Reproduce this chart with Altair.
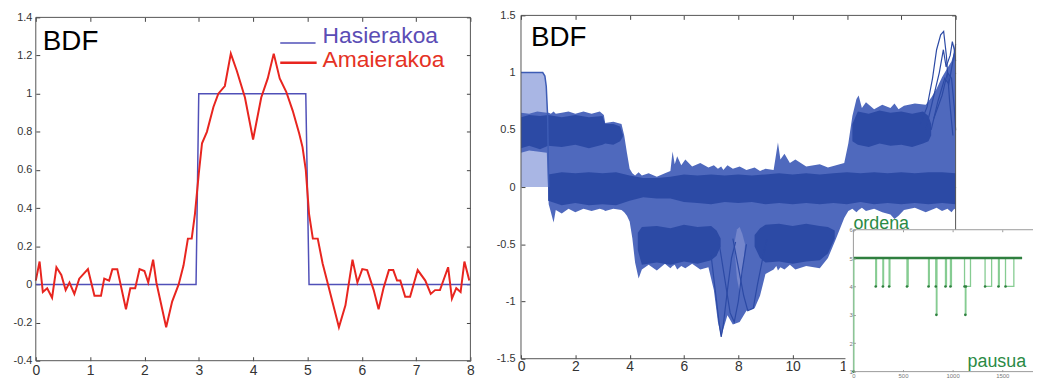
import altair as alt
import pandas as pd

# ---------------- left panel data ----------------
hasi_x = [0, 2.95, 3.0, 4.97, 5.03, 8]
hasi_y = [0, 0, 1, 1, 0, 0]

amai_x = [0.00, 0.07, 0.13, 0.21, 0.30, 0.38, 0.47, 0.55, 0.62, 0.71, 0.80, 0.96, 1.08, 1.20, 1.26,
          1.35, 1.41, 1.50, 1.66, 1.74, 1.83, 1.91, 2.00, 2.07, 2.16, 2.22, 2.40, 2.51, 2.63, 2.72,
          2.80, 2.87, 2.93, 3.00, 3.06, 3.15, 3.27, 3.36, 3.48, 3.59, 3.70, 3.85, 4.00, 4.15, 4.27,
          4.38, 4.49, 4.61, 4.73, 4.85, 4.91, 4.97, 5.03, 5.10, 5.19, 5.28, 5.37, 5.58, 5.70, 5.83,
          5.92, 6.01, 6.10, 6.22, 6.31, 6.40, 6.50, 6.58, 6.65, 6.71, 6.80, 6.89, 7.03, 7.17, 7.27,
          7.35, 7.44, 7.59, 7.66, 7.74, 7.82, 7.89, 7.98]
amai_y = [0.02, 0.12, -0.04, -0.02, -0.07, 0.09, 0.05, -0.03, 0.01, -0.05, 0.03, 0.08, -0.06, -0.06, 0.03,
          0.02, 0.08, 0.08, -0.13, -0.02, -0.02, 0.08, 0.07, 0.01, 0.13, 0.01, -0.225, -0.09, 0.00, 0.10,
          0.24, 0.24, 0.37, 0.58, 0.74, 0.80, 0.93, 1.00, 1.04, 1.21, 1.12, 0.98, 0.76, 0.98, 1.08,
          1.21, 1.08, 1.01, 0.91, 0.79, 0.72, 0.60, 0.37, 0.24, 0.24, 0.11, 0.01, -0.225, -0.11, 0.13,
          0.01, 0.08, 0.075, -0.03, -0.13, -0.02, 0.075, 0.075, 0.02, 0.02, -0.065, -0.065, 0.075, 0.02, -0.05,
          -0.03, -0.03, 0.09, -0.075, -0.02, -0.04, 0.12, 0.02]

# ---------------- right panel data (envelopes of the trace bundle) ----------------
light_t = [0.00, 0.80, 0.88, 0.93, 0.98, 1.00]
light_lo = [0.0, 0.0, 0.0, 0.0, 0.0, 0.0]
light_hi = [1.00, 1.00, 0.97, 0.88, 0.66, 0.60]

env_t = [0.00, 0.30, 0.60, 0.95, 1.02, 1.10, 1.20, 1.28, 1.50, 1.75, 2.00, 2.30, 2.60, 2.90, 3.05, 3.10,
         3.40, 3.70, 3.80, 3.90, 4.00, 4.10, 4.20, 4.33, 4.45, 4.70, 5.00, 5.30, 5.50, 5.58, 5.66, 5.75,
         5.90, 6.05, 6.30, 6.60, 6.90, 7.10, 7.25, 7.37, 7.45, 7.60, 7.80, 8.05, 8.30, 8.60, 8.80, 9.00,
         9.30, 9.40, 9.46, 9.55, 9.70, 9.90, 10.10, 10.50, 11.00, 11.30, 11.60, 11.90, 12.05, 12.20,
         12.35, 12.43, 12.55, 12.70, 13.00, 13.30, 13.60, 13.75, 13.90, 14.10, 14.50, 14.90, 15.10,
         15.30, 15.50, 15.70, 15.85, 15.95, 16.00]
env_lo = [0.30, 0.32, 0.31, 0.30, -0.15, -0.22, -0.31, -0.20, -0.23, -0.19, -0.22, -0.19, -0.21, -0.19,
          -0.20, -0.21, -0.19, -0.20, -0.22, -0.25, -0.30, -0.45, -0.66, -0.80, -0.72, -0.68, -0.73, -0.67,
          -0.71, -0.69, -0.68, -0.72, -0.69, -0.71, -0.67, -0.72, -0.70, -0.90, -1.18, -1.31, -1.24, -1.12,
          -1.20, -1.18, -1.08, -1.06, -0.95, -0.76, -0.72, -0.69, -0.73, -0.70, -0.72, -0.68, -0.72, -0.69,
          -0.71, -0.62, -0.45, -0.27, -0.21, -0.19, -0.22, -0.20, -0.18, -0.21, -0.19, -0.22, -0.24, -0.28,
          -0.25, -0.20, -0.18, -0.22, -0.20, -0.18, -0.21, -0.19, -0.22, -0.19, -0.20]
env_hi = [0.65, 0.64, 0.66, 0.65, 0.65, 0.64, 0.66, 0.64, 0.65, 0.66, 0.64, 0.66, 0.64, 0.66, 0.63, 0.56,
          0.57, 0.55, 0.45, 0.30, 0.16, 0.12, 0.10, 0.13, 0.10, 0.12, 0.09, 0.12, 0.14, 0.31, 0.20, 0.27,
          0.19, 0.24, 0.18, 0.21, 0.17, 0.19, 0.16, 0.18, 0.15, 0.19, 0.16, 0.18, 0.15, 0.17, 0.14, 0.16,
          0.15, 0.30, 0.39, 0.24, 0.29, 0.21, 0.24, 0.18, 0.20, 0.17, 0.19, 0.21, 0.38, 0.62, 0.77, 0.80,
          0.69, 0.74, 0.68, 0.72, 0.69, 0.73, 0.68, 0.71, 0.73, 0.72, 0.78, 0.86, 0.96, 1.04, 1.10, 1.18, 1.12]

coreA_t = [0.00, 0.30, 0.70, 1.00, 1.50, 2.00, 2.50, 3.00, 3.10, 3.40, 3.65, 3.75]
coreA_lo = [0.34, 0.36, 0.33, 0.36, 0.35, 0.37, 0.34, 0.37, 0.38, 0.37, 0.40, 0.44]
coreA_hi = [0.61, 0.63, 0.62, 0.63, 0.61, 0.63, 0.61, 0.62, 0.55, 0.55, 0.53, 0.46]

coreB_t = [1.0, 1.5, 2.0, 2.5, 3.0, 3.5, 4.0, 4.5, 5.0, 5.5, 6.0, 6.5, 7.0, 7.5, 8.0, 8.5, 9.0, 9.5,
           10.0, 10.5, 11.0, 11.5, 12.0, 12.5, 13.0, 13.5, 14.0, 14.5, 15.0, 15.5, 16.0]
coreB_lo = [-0.12, -0.16, -0.14, -0.16, -0.15, -0.16, -0.12, -0.09, -0.10, -0.10, -0.13, -0.14, -0.15,
            -0.13, -0.14, -0.13, -0.15, -0.14, -0.15, -0.14, -0.15, -0.14, -0.15, -0.13, -0.15, -0.14,
            -0.15, -0.14, -0.15, -0.14, -0.15]
coreB_hi = [0.11, 0.13, 0.12, 0.13, 0.12, 0.13, 0.10, 0.08, 0.08, 0.09, 0.11, 0.10, 0.11, 0.10, 0.11,
            0.10, 0.11, 0.12, 0.11, 0.12, 0.11, 0.12, 0.13, 0.12, 0.13, 0.12, 0.13, 0.12, 0.13, 0.13, 0.12]

coreC1_t = [4.30, 4.45, 5.0, 5.5, 6.0, 6.5, 7.0, 7.2, 7.35]
coreC1_lo = [-0.55, -0.68, -0.66, -0.68, -0.65, -0.67, -0.64, -0.60, -0.52]
coreC1_hi = [-0.40, -0.35, -0.34, -0.36, -0.33, -0.35, -0.34, -0.38, -0.45]

coreC2_t = [8.60, 8.80, 9.0, 9.5, 10.0, 10.5, 11.0, 11.3, 11.55]
coreC2_lo = [-0.52, -0.62, -0.66, -0.65, -0.67, -0.65, -0.64, -0.58, -0.45]
coreC2_hi = [-0.42, -0.36, -0.33, -0.32, -0.34, -0.32, -0.34, -0.35, -0.38]

coreE_t = [12.20, 12.40, 12.8, 13.2, 13.6, 14.0, 14.4, 14.8, 15.0, 15.1]
coreE_lo = [0.40, 0.37, 0.35, 0.38, 0.36, 0.37, 0.35, 0.38, 0.40, 0.45]
coreE_hi = [0.55, 0.66, 0.64, 0.67, 0.65, 0.66, 0.64, 0.66, 0.62, 0.55]

lens_t = [7.85, 7.95, 8.05, 8.15, 8.25]
lens_lo = [-0.50, -0.80, -0.92, -0.76, -0.50]
lens_hi = [-0.50, -0.37, -0.35, -0.41, -0.50]

edge_t = [0.00, 0.80, 0.88, 0.93, 0.98, 1.02]
edge_v = [1.00, 1.00, 0.97, 0.88, 0.62, 0.00]

dip_traces = [
    ([7.00, 7.15, 7.30, 7.37, 7.45, 7.60, 7.75, 7.90], [-0.60, -0.90, -1.20, -1.31, -1.20, -0.90, -0.62, -0.48]),
    ([7.30, 7.50, 7.70, 7.85, 8.00, 8.15, 8.30], [-0.50, -0.80, -1.10, -1.18, -1.00, -0.72, -0.50]),
    ([7.80, 8.00, 8.20, 8.35, 8.55, 8.70, 8.90, 9.05], [-0.45, -0.70, -0.95, -1.08, -1.06, -0.86, -0.62, -0.46]),
]
spike_traces = [
    ([14.70, 14.95, 15.15, 15.30, 15.45, 15.56, 15.66, 15.78, 15.90], [0.55, 0.70, 0.95, 1.20, 1.33, 1.36, 1.15, 0.75, 0.45]),
    ([14.90, 15.20, 15.40, 15.55, 15.65, 15.80, 15.88, 15.95, 16.00], [0.50, 0.80, 1.00, 1.20, 1.05, 1.15, 1.27, 1.20, 1.10]),
    ([15.10, 15.35, 15.60, 15.75, 15.90, 16.00], [0.50, 0.75, 0.95, 0.90, 1.10, 1.25]),
    ([15.20, 15.50, 15.70, 15.85, 15.95, 16.00], [0.60, 0.80, 1.00, 0.95, 0.70, 0.50]),
]

# ---------------- inset data ----------------
ord_steps = [0, 5, 225, 233, 297, 304, 360, 368, 540, 552, 757, 765, 830, 836, 842, 928, 938, 978, 988,
             1120, 1128, 1134, 1180, 1327, 1393, 1462, 1470, 1533, 1617, 1700]
ord_vals = [1, 5, 4, 5, 4, 5, 4, 5, 4, 5, 4, 5, 4, 3, 5, 4, 5, 4, 5, 4, 3, 4, 5, 4, 5, 4, 5, 4, 5, 5]

# ---------------- layout ----------------
W, H = 1033, 372
FONT = "Liberation Sans"

L_XDOM, L_YDOM = [0, 8], [-0.4, 1.4]
L_XR, L_YR = [28, 466], [354, 8]
R_XDOM, R_YDOM = [0, 16], [-1.5, 1.5]
R_XR, R_YR = [517, 955], [352, 6]
I_XDOM, I_YDOM = [0, 2000], [1, 6]
I_XR, I_YR = [852, 1052], [365, 222]

L_XT = [0, 1, 2, 3, 4, 5, 6, 7, 8]
L_YT = [-0.4, -0.2, 0, 0.2, 0.4, 0.6, 0.8, 1, 1.2, 1.4]
R_XT = [0, 2, 4, 6, 8, 10, 12, 14, 16]
R_YT = [-1.5, -1, -0.5, 0, 0.5, 1, 1.5]
I_XT = [0, 500, 1000, 1500]
I_YT = [1, 2, 3, 4, 5, 6]

DARK = "#2c4aa5"
MED = "#4f69bd"
LIGHT = "#a9b6e4"


def sc(dom, rng):
    return alt.Scale(domain=dom, range=rng, nice=False, zero=False)


def axis(orient, values, offset, tick, labels, pad=2, size=11, lcolor="#333333",
         tcolor="#444444", z=0):
    kw = dict(orient=orient, values=values, offset=offset, tickSize=tick, tickColor=tcolor,
              tickWidth=1, domain=False, grid=False, labels=labels, title="", zindex=z)
    if labels:
        kw.update(labelPadding=pad, labelFontSize=size, labelColor=lcolor, labelFont=FONT,
                  labelFlush=False, labelOverlap=False, labelExpr="'' + datum.value")
    return alt.Axis(**kw)


def frame(xdom, ydom, xr, yr, stroke, ax_b, ax_l, ax_t=None, ax_r=None):
    df = pd.DataFrame({"x0": [xdom[0]], "x1": [xdom[1]], "y0": [ydom[0]], "y1": [ydom[1]]})
    box = alt.Chart(df).mark_rect(fillOpacity=0, stroke=stroke, strokeWidth=1).encode(
        x=alt.X("x0:Q", scale=sc(xdom, xr), axis=ax_b),
        x2="x1",
        y=alt.Y("y0:Q", scale=sc(ydom, yr), axis=ax_l),
        y2="y1")
    out = [box]
    if ax_t is not None or ax_r is not None:
        ghost = alt.Chart(df).mark_point(opacity=0).encode(
            x=alt.X("x0:Q", scale=sc(xdom, xr), axis=ax_t),
            y=alt.Y("y0:Q", scale=sc(ydom, yr), axis=ax_r))
        out.append(ghost)
    return out


def line(xv, yv, xdom, ydom, xr, yr, color, width, interp="linear"):
    df = pd.DataFrame({"x": xv, "y": yv, "i": list(range(len(xv)))})
    return alt.Chart(df).mark_line(color=color, strokeWidth=width, interpolate=interp).encode(
        x=alt.X("x:Q", scale=sc(xdom, xr), axis=None),
        y=alt.Y("y:Q", scale=sc(ydom, yr), axis=None),
        order="i:Q")


def area(t, lo, hi, color, op=1.0):
    df = pd.DataFrame({"t": t, "lo": lo, "hi": hi})
    return alt.Chart(df).mark_area(color=color, opacity=op).encode(
        x=alt.X("t:Q", scale=sc(R_XDOM, R_XR), axis=None),
        y=alt.Y("lo:Q", scale=sc(R_YDOM, R_YR), axis=None),
        y2="hi")


def text(x, y, s, xdom, ydom, xr, yr, size, color, align="left", baseline="alphabetic",
         weight="normal"):
    df = pd.DataFrame({"x": [x], "y": [y], "s": [s]})
    return alt.Chart(df).mark_text(align=align, baseline=baseline, fontSize=size, color=color,
                                   font=FONT, fontWeight=weight).encode(
        x=alt.X("x:Q", scale=sc(xdom, xr), axis=None),
        y=alt.Y("y:Q", scale=sc(ydom, yr), axis=None),
        text="s:N")


def rule(x0, x1, y, xdom, ydom, xr, yr, color, width):
    df = pd.DataFrame({"x0": [x0], "x1": [x1], "y": [y]})
    return alt.Chart(df).mark_rule(color=color, strokeWidth=width).encode(
        x=alt.X("x0:Q", scale=sc(xdom, xr), axis=None),
        x2="x1",
        y=alt.Y("y:Q", scale=sc(ydom, yr), axis=None))


layers = []

# ---- left panel ----
LP = (L_XDOM, L_YDOM, L_XR, L_YR)
layers.append(line(hasi_x, hasi_y, *LP, "#5050b8", 1.5))
layers.append(line(amai_x, amai_y, *LP, "#e8251f", 2.0))
layers.append(rule(4.50, 5.15, 1.266, *LP, "#5050b8", 1.5))
layers.append(rule(4.50, 5.17, 1.162, *LP, "#e8251f", 2.5))
layers.append(text(5.28, 1.265, "Hasierakoa", *LP, 23, "#5b4db5"))
layers.append(text(5.28, 1.14, "Amaierakoa", *LP, 23, "#e53224"))
layers.append(text(0.13, 1.227, "BDF", *LP, 28, "#000000"))
layers += frame(L_XDOM, L_YDOM, L_XR, L_YR, "#555555",
                axis("bottom", L_XT, L_YR[0] - 4 - H, 4, True, pad=3, size=14),
                axis("left", L_YT, -(L_XR[0] + 4), 4, True, pad=4, size=11),
                axis("top", L_XT, -(L_YR[1] + 4), 4, False),
                axis("right", L_YT, (L_XR[1] - 4) - W, 4, False))

# ---- right panel ----
RP = (R_XDOM, R_YDOM, R_XR, R_YR)
layers.append(area(light_t, light_lo, light_hi, LIGHT))
layers.append(area(env_t, env_lo, env_hi, MED))
layers.append(area(lens_t, lens_lo, lens_hi, "#7486cc"))
layers.append(area(coreA_t, coreA_lo, coreA_hi, DARK))
layers.append(area(coreB_t, coreB_lo, coreB_hi, DARK))
layers.append(area(coreC1_t, coreC1_lo, coreC1_hi, DARK))
layers.append(area(coreC2_t, coreC2_lo, coreC2_hi, DARK))
layers.append(area(coreE_t, coreE_lo, coreE_hi, DARK))
layers.append(line(edge_t, edge_v, *RP, "#3d5cb5", 1.5))
for tx, tv in dip_traces:
    layers.append(line(tx, tv, *RP, DARK, 1.2))
for tx, tv in spike_traces:
    layers.append(line(tx, tv, *RP, DARK, 1.2))
layers.append(text(0.366, 1.231, "BDF", *RP, 28, "#000000"))
layers += frame(R_XDOM, R_YDOM, R_XR, R_YR, "#555555",
                axis("bottom", R_XT, R_YR[0] - 4 - H, 4, True, pad=1, size=14),
                axis("left", R_YT, -(R_XR[0] + 4), 4, True, pad=6, size=11),
                axis("top", R_XT, -(R_YR[1] + 4), 4, False),
                axis("right", R_YT, (R_XR[1] - 4) - W, 4, False))

# ---- inset ----
IP = (I_XDOM, I_YDOM, I_XR, I_YR)
bg = pd.DataFrame({"x0": [-80], "x1": [2000], "y0": [0.4], "y1": [6]})
layers.append(alt.Chart(bg).mark_rect(color="#ffffff").encode(
    x=alt.X("x0:Q", scale=sc(I_XDOM, I_XR), axis=None), x2="x1",
    y=alt.Y("y0:Q", scale=sc(I_YDOM, I_YR), axis=None), y2="y1"))
layers += frame(I_XDOM, I_YDOM, I_XR, I_YR, "#9a9a9a",
                axis("bottom", I_XT, I_YR[0] - 2 - H, 2, True, pad=1, size=6,
                     lcolor="#777777", tcolor="#999999", z=1),
                axis("left", I_YT, -(I_XR[0] + 2), 2, True, pad=1, size=6,
                     lcolor="#777777", tcolor="#999999", z=1),
                axis("top", I_XT, -(I_YR[1] + 2), 2, False, tcolor="#999999", z=1))
layers.append(line(ord_steps, ord_vals, *IP, "#86cc92", 1.3, interp="step-after"))
layers.append(rule(ord_steps[1], ord_steps[-1], 5, *IP, "#2f7f3f", 2.5))
dots = pd.DataFrame({"x": ord_steps, "y": ord_vals})
dots = dots[dots["y"] < 5]
layers.append(alt.Chart(dots).mark_circle(size=7, color="#2f7f3f", opacity=1).encode(
    x=alt.X("x:Q", scale=sc(I_XDOM, I_XR), axis=None),
    y=alt.Y("y:Q", scale=sc(I_YDOM, I_YR), axis=None)))
layers.append(text(0, 6.03, "ordena", *IP, 18, "#2a8a45"))
layers.append(text(1150, 1.17, "pausua", *IP, 18, "#2a8a45"))

chart = alt.layer(*layers).resolve_scale(x="independent", y="independent").properties(
    width=W, height=H, padding=0, autosize=alt.AutoSizeParams(type="none")
).configure_view(strokeWidth=0)

chart.save("out.html", embed_options={"renderer": "svg", "actions": False})
